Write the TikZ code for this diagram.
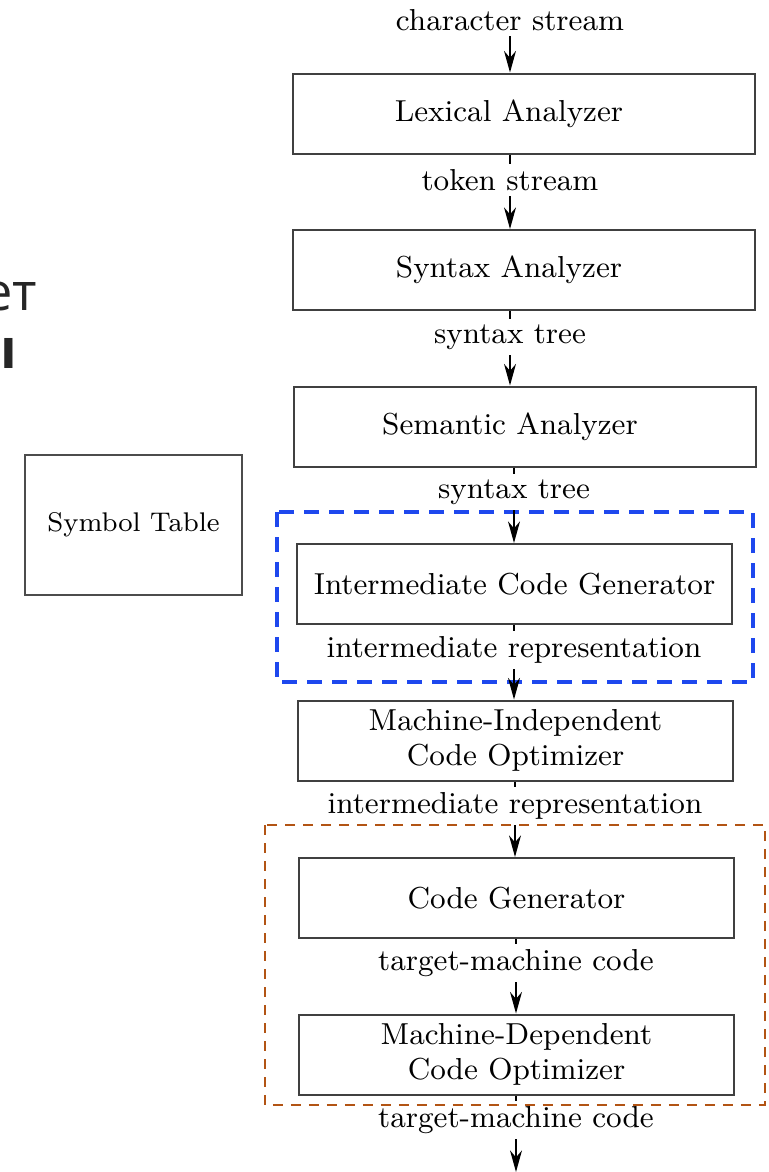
\documentclass[tikz,border=0pt]{standalone}
\usepackage{fontspec}
\newfontfamily\cyrfont{Open Sans}
\usetikzlibrary{positioning, arrows.meta}
\definecolor{irblue}{RGB}{30,72,238}
\definecolor{backbrown}{RGB}{178,84,20}
\tikzset{
  stagebox/.style={draw=black!75, line width=0.6pt, minimum height=24pt, inner sep=0pt,
    align=center, font=\fontsize{9.1}{10.6}\selectfont},
  widebox/.style={stagebox, minimum width=138.6pt},
  narrowbox/.style={stagebox, minimum width=130.5pt},
  streamlabel/.style={inner sep=1.5pt, font=\fontsize{9.1}{10.6}\selectfont},
  flow/.style={line width=0.4pt, -{Stealth[length=6.5pt, width=3.6pt]}},
  tick/.style={line width=0.4pt},
  irframe/.style={draw=irblue, line width=1.2pt, dash pattern=on 4.5pt off 3pt},
  backframe/.style={draw=backbrown, line width=0.6pt, dash pattern=on 3pt off 2.4pt}
}

\begin{document}
\begin{tikzpicture}[x=0.3pt, y=-0.3pt]
  \useasboundingbox (0,0) rectangle (769,1172);
  % Slide text cut off at the left
  \node[anchor=base east, inner sep=0pt, text=black!85,
    font=\cyrfont\fontsize{15.7}{18}\selectfont] (cut1) at (38,310) {ет};
  \node[anchor=base east, inner sep=0pt, text=black!85,
    font=\cyrfont\bfseries\fontsize{16.5}{19}\selectfont] (cut2) at (18,368) {ы};
  % Phase boxes
  \node[widebox] (lex) at (524,113.5) {Lexical Analyzer\hspace{9pt}};
  \node[widebox] (syn) at (524,270) {Syntax Analyzer\hspace{9pt}};
  \node[widebox] (sem) at (525,426.5) {Semantic Analyzer\hspace{9pt}};
  \node[narrowbox] (icg) at (514.5,584) {Intermediate Code Generator};
  \node[narrowbox] (mio) at (515.5,740.5) {Machine-Independent\\Code Optimizer};
  \node[narrowbox] (cg) at (516.5,898) {Code Generator};
  \node[narrowbox] (mdo) at (516.5,1054.5) {Machine-Dependent\\Code Optimizer};
  % Stream labels between the phases
  \foreach \lblname/\cx/\cy/\txt in {
    cs/510/20/character stream,
    ts/510/180/token stream,
    st1/510/337/syntax tree,
    st2/514/492/syntax tree,
    ir1/514/650/intermediate representation,
    ir2/515/806/intermediate representation,
    tm1/516/963/target-machine code,
    tm2/516/1120/target-machine code
  }{
    \node[streamlabel] (\lblname) at (\cx,\cy) {\txt};
  }
  \coordinate (out) at (516,1172);
  % Symbol table
  \node[draw=black!70, line width=0.5pt, minimum width=65.1pt, minimum height=42pt,
    font=\fontsize{8.1}{10}\selectfont] (symtab) at (133.5,525) {Symbol Table};
  % Groups of phases
  \draw[irframe] (277,512) rectangle (753,682);
  \draw[backframe] (265,825) rectangle (765,1105);
  % Data flow
  \draw[flow] (cs) -- (cs |- lex.north);
  \foreach \src/\lbl/\dst in {lex/ts/syn, syn/st1/sem, sem/st2/icg, icg/ir1/mio, mio/ir2/cg, cg/tm1/mdo}{
    \draw[tick] (\src.south -| \lbl) -- (\lbl);
    \draw[flow] (\lbl) -- (\lbl |- \dst.north);
  }
  \draw[tick] (mdo.south -| tm2) -- (tm2);
  \draw[flow] (tm2) -- (out);
\end{tikzpicture}
\end{document}
